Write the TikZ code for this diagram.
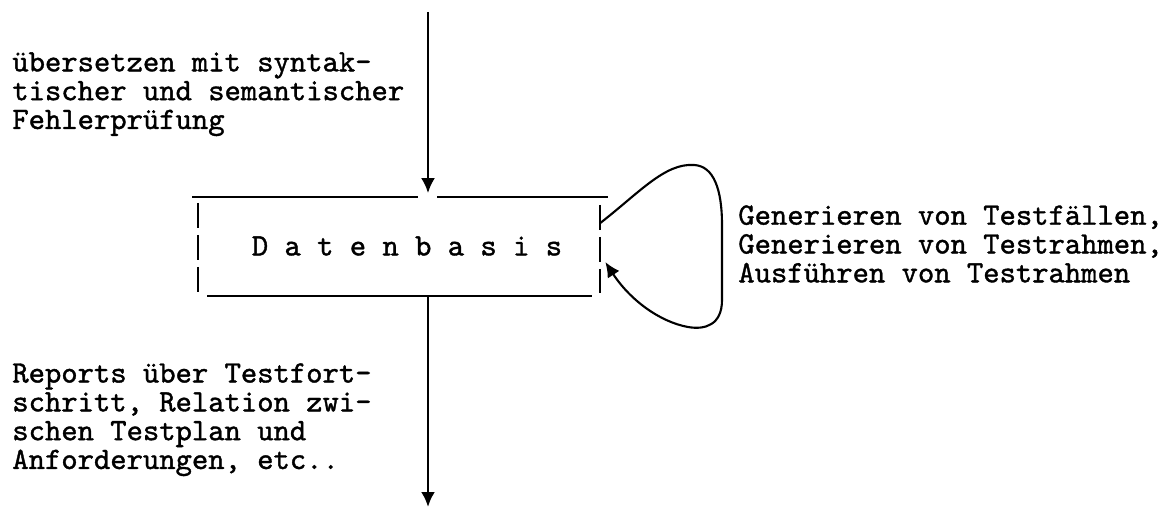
\documentclass[tikz,border=0pt]{standalone}
\usepackage{fontspec}
\usetikzlibrary{arrows.meta}
\newfontfamily\typewriter{lmmono10-regular.otf}[FakeBold=1.2]

\begin{document}
\begin{tikzpicture}[x=0.02cm, y=-0.02cm, >={Latex[length=0.3cm, width=0.28cm]}]
    \tikzset{
        typed/.style={font=\typewriter\fontsize{17.7}{16.4}\selectfont, align=left, inner sep=0pt},
        flow/.style={->, line width=1.5pt},
        rule/.style={line width=0.8pt},
        bar/.style={line width=0.8pt, dash pattern=on 0.5cm off 0.14cm}
    }
    \useasboundingbox (0,0) rectangle (1162,509);

    % DATABASE
    \node[typed, minimum width=7.72cm, minimum height=1.98cm] (db) at (407,246) {D a t e n b a s i s};
    \draw[rule] (192,197) -- (418,197) (437,197) -- (608,197);
    \draw[rule] (207,296) -- (592,296);
    \draw[bar] (198,203) -- (198,292);
    \draw[bar] (600,205) -- (600,293);

    % INPUT AND OUTPUT
    \coordinate (src) at (428,12);
    \coordinate (sink) at (428,507);
    \draw[flow, shorten >=0.06cm] (src) -- (src |- db.north);
    \draw[flow] (db.south -| sink) -- (sink);

    % SELF LOOP
    \coordinate (loopout) at ([yshift=0.46cm]db.east);
    \coordinate (loopin) at ([shift={(0.1cm,-0.32cm)}]db.east);
    \draw[flow, line width=1.2pt] (loopout)
        .. controls (640,192) and (665,163) .. (694,165)
        .. controls (714,166) and (722,190) .. (722,225)
        -- (722,300)
        .. controls (722,325) and (705,330) .. (688,327)
        .. controls (660,322) and (630,300) .. (loopin);

    % LABELS
    \node[typed, anchor=north west] (compile) at (12,52)
        {übersetzen mit syntak-\\tischer und semantischer\\Fehlerprüfung};
    \node[typed, anchor=north west] (loopnote) at (738,205)
        {Generieren von Testfällen,\\Generieren von Testrahmen,\\Ausführen von Testrahmen};
    \node[typed, anchor=north west] (reports) at (12,363)
        {Reports über Testfort-\\schritt, Relation zwi-\\schen Testplan und\\Anforderungen, etc..};
\end{tikzpicture}
\end{document}
